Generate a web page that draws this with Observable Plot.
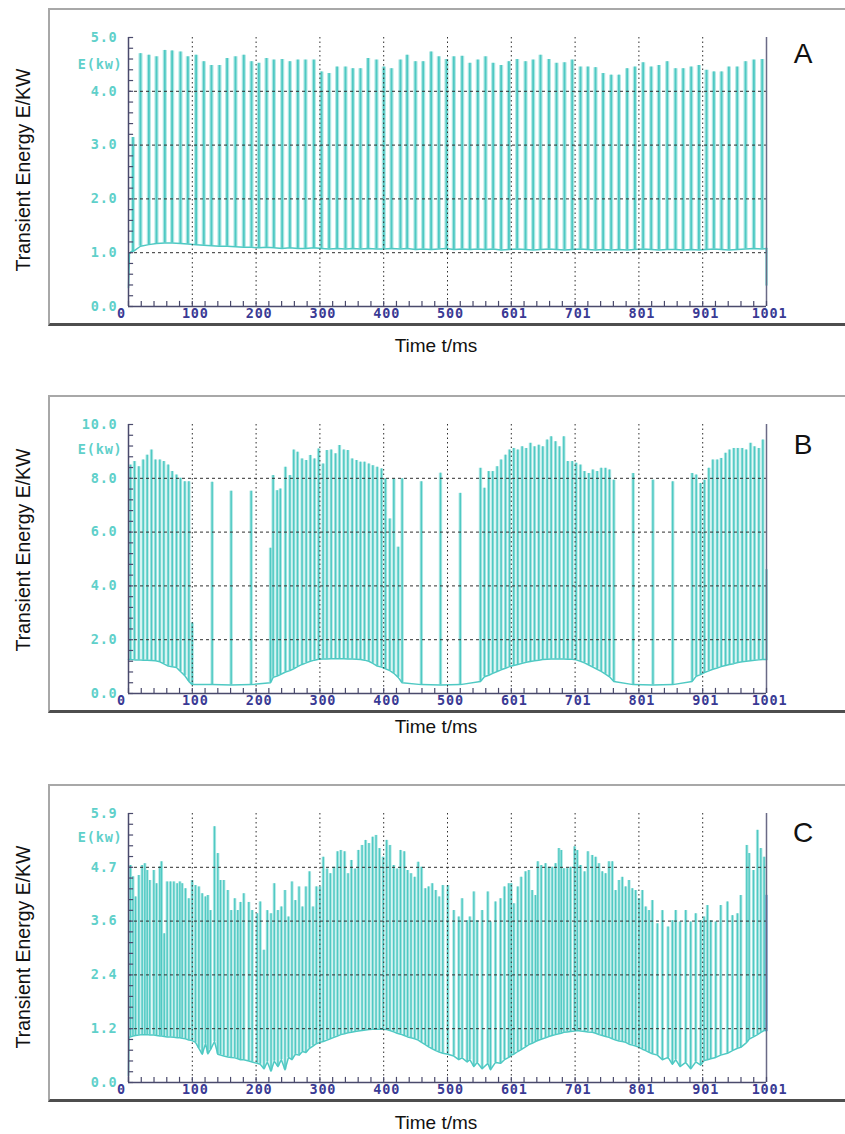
<!DOCTYPE html>
<html>
<head>
<meta charset="utf-8">
<script src="https://cdn.jsdelivr.net/npm/d3@7"></script>
<script src="https://cdn.jsdelivr.net/npm/@observablehq/plot@0.6"></script>
<style>
  html, body { margin: 0; padding: 0; background: #fff; }
  body { width: 845px; height: 1134px; position: relative; overflow: hidden; font-family: "Liberation Sans", Arial, sans-serif; }
  .panel { position: absolute; left: 0; width: 845px; height: 372px; }
  .frame { position: absolute; left: 48px; top: 8px; width: 810px; height: 318px; box-sizing: border-box;
           border-top: 2px solid #a8a8a8; border-left: 2px solid #a8a8a8; border-bottom: 3px solid #4e4e4e; }
  .plot { position: absolute; left: 0; top: 0; }
  .ytitle { position: absolute; left: 23px; transform: translate(-50%, -50%) rotate(-90deg); font-size: 19.5px; white-space: nowrap; color: #111; }
  .xtitle { position: absolute; left: 436px; transform: translate(-50%, -50%); font-size: 19px; white-space: nowrap; color: #111; }
  .letter { position: absolute; left: 803px; transform: translate(-50%, -50%); font-size: 28px; color: #111; }
</style>
</head>
<body>
<script>
// ---------- shared axis data ----------
const xTickValues = [0, 100, 200, 300, 400, 500, 600, 700, 800, 900, 1000];
const xTickLabels = ["0", "100", "200", "300", "400", "500", "601", "701", "801", "901", "1001"];

// ---------- Panel A ----------
const aTickValues = [0, 1, 2, 3, 4, 5];
const aTickLabels = ["0.0", "1.0", "2.0", "3.0", "4.0", "5.0"];
const aTimes = [7, 18.8, 31.9, 43.9, 56.9, 68.4, 81.5, 93, 106, 118, 130, 142.6, 154.6, 167.7, 180.7, 192.8, 204.3, 216.3, 227.8, 240.9,
  252.9, 265.4, 277.4, 290.5, 302.5, 314.5, 327, 340.1, 351.6, 363.6, 375.6, 388.7, 400.2, 412.2,
  426.3, 436.8, 449.8, 461.9, 474.4, 486.4, 498.4, 509.9, 523, 535, 547.5, 559.6, 571.6, 584.1, 596.2, 609.2,
  622.3, 634.3, 645.8, 658.9, 670.9, 683.4, 695.5, 708.5, 720, 732, 744, 756.6, 768.6, 781.6, 793.7, 806.7,
  819.3, 831.3, 844.4, 857.4, 869.5, 882, 894, 906, 917.5, 929.5, 941, 954.1, 967.2, 980.2, 993.3];
const aPeaks = [3.14, 4.70, 4.67, 4.64, 4.76, 4.75, 4.73, 4.64, 4.67, 4.55, 4.48, 4.48, 4.61, 4.64, 4.67, 4.55, 4.52, 4.61, 4.58, 4.59,
  4.55, 4.58, 4.58, 4.58, 4.36, 4.33, 4.45, 4.45, 4.42, 4.42, 4.61, 4.58, 4.45, 4.42,
  4.58, 4.67, 4.55, 4.55, 4.73, 4.64, 4.59, 4.64, 4.65, 4.52, 4.58, 4.64, 4.52, 4.48, 4.55, 4.59,
  4.55, 4.58, 4.67, 4.59, 4.52, 4.53, 4.58, 4.45, 4.45, 4.44, 4.33, 4.30, 4.30, 4.42, 4.45, 4.53,
  4.45, 4.48, 4.55, 4.42, 4.42, 4.45, 4.48, 4.39, 4.36, 4.36, 4.45, 4.45, 4.55, 4.58, 4.59];
const aBases = [1.02, 1.12, 1.15, 1.17, 1.18, 1.18, 1.17, 1.16, 1.15, 1.14, 1.13, 1.12, 1.12, 1.11, 1.10, 1.10, 1.09, 1.10, 1.09, 1.08,
  1.09, 1.08, 1.08, 1.09, 1.08, 1.07, 1.08, 1.07, 1.08, 1.07, 1.08, 1.07, 1.07, 1.08,
  1.07, 1.08, 1.06, 1.07, 1.06, 1.07, 1.08, 1.06, 1.07, 1.06, 1.07, 1.06, 1.07, 1.05, 1.06, 1.07,
  1.06, 1.05, 1.06, 1.07, 1.06, 1.05, 1.06, 1.07, 1.06, 1.05, 1.06, 1.05, 1.06, 1.05, 1.06, 1.07,
  1.06, 1.05, 1.06, 1.06, 1.05, 1.06, 1.05, 1.06, 1.07, 1.06, 1.05, 1.06, 1.07, 1.08, 1.07];
const aLead = [[0, 0.35], [1.5, 0.98], [4, 1.02]];
const aTail = [[1000, 1.08], [1000, 0.4]];

// ---------- Panel B ----------
const bTickValues = [0, 2, 4, 6, 8, 10];
const bTickLabels = ["0.0", "2.0", "4.0", "6.0", "8.0", "10.0"];
const bTimes = [3.1, 9.4, 16.2, 23, 29.3, 36, 42.3, 49.1, 55.4, 62.2, 68.5, 75.2, 81.5, 88.3, 94.6, 99.8,
  131.1, 160.9, 192.3,
  222.6, 226.7, 233, 238, 246, 253, 259, 265, 272, 278.5, 285, 291.5, 298, 305, 311, 317.7, 324.5, 330.7, 337.5, 343.8,
  350.6, 357.4, 363.6, 369.9, 376.7, 383, 389.8, 396.6, 402.8, 409.6, 415.9, 422.7, 428.9,
  459, 489, 520,
  551.7, 557.9, 564.6, 570.9, 577.8, 584, 590.9, 597.2, 603.9, 610.2, 617, 623.3, 630, 636.4, 643.1, 649.4, 656.2, 662.5,
  669.3, 675.5, 682.3, 688.6, 695.4, 701.6, 708.4, 714.7, 721.5, 727.8, 734.6, 740.9, 747.6, 753.9, 760.7,
  791, 822, 853,
  883.5, 889.8, 896.6, 902.8, 909.6, 915.9, 922.7, 929, 935.8, 942, 948.8, 955.1, 961.9, 968.2, 975, 981.2, 988, 994.3];
const bPeaks = [8.49, 8.62, 8.43, 8.68, 8.86, 9.05, 8.68, 8.68, 8.62, 8.49, 8.25, 8.12, 8.0, 7.87, 7.87, 2.62,
  7.85, 7.52, 7.52,
  5.4, 8.1, 7.54, 7.6, 8.41, 8.1, 9.05, 8.97, 8.72, 8.66, 8.85, 8.72, 9.09, 8.53, 9.03, 9.05, 8.91, 9.22, 9.05, 9.03,
  8.72, 8.66, 8.6, 8.6, 8.53, 8.47, 8.41, 8.35, 7.98, 6.49, 7.98, 5.44, 7.98,
  7.87, 8.19, 7.44,
  8.37, 7.63, 8.25, 8.25, 8.43, 8.68, 8.86, 9.05, 9.11, 9.05, 9.17, 9.11, 9.3, 9.17, 9.23, 9.17, 9.42, 9.54,
  9.36, 9.17, 9.54, 8.62, 8.62, 8.56, 8.49, 8.25, 8.18, 8.31, 8.25, 8.37, 8.37, 8.31, 7.93,
  8.18, 7.93, 7.87,
  8.18, 8.12, 7.81, 7.93, 8.37, 8.68, 8.68, 8.74, 8.93, 9.05, 9.11, 9.11, 9.11, 9.05, 9.3, 9.17, 9.11, 9.42];
const bBases = [1.26, 1.25, 1.25, 1.24, 1.24, 1.23, 1.22, 1.18, 1.1, 1.02, 0.99, 0.97, 0.82, 0.66, 0.45, 0.33,
  0.33, 0.32, 0.33,
  0.4, 0.6, 0.65, 0.7, 0.8, 0.85, 0.92, 1.0, 1.08, 1.14, 1.2, 1.24, 1.27, 1.28, 1.28, 1.29, 1.29, 1.29, 1.29, 1.28,
  1.28, 1.27, 1.26, 1.24, 1.2, 1.12, 1.02, 0.98, 0.92, 0.85, 0.75, 0.6, 0.4,
  0.33, 0.32, 0.33,
  0.45, 0.62, 0.68, 0.75, 0.82, 0.88, 0.94, 1.0, 1.04, 1.08, 1.12, 1.16, 1.19, 1.22, 1.24, 1.26, 1.27, 1.28,
  1.28, 1.28, 1.28, 1.27, 1.27, 1.25, 1.2, 1.14, 1.06, 0.98, 0.9, 0.82, 0.72, 0.62, 0.45,
  0.33, 0.32, 0.33,
  0.45, 0.64, 0.7, 0.78, 0.84, 0.9, 0.95, 1.0, 1.04, 1.08, 1.11, 1.15, 1.18, 1.2, 1.22, 1.24, 1.25, 1.26];
const bLead = [[0, 1.26]];
const bTail = [[1000, 1.26], [1000, 4.6]];

// ---------- Panel C ----------
const cTickValues = [0, 1.18, 2.36, 3.54, 4.72, 5.9];
const cTickLabels = ["0.0", "1.2", "2.4", "3.6", "4.7", "5.9"];
const cTimes = [3.1, 7, 11, 16.2, 21.4, 25.6, 29.3, 33.4, 39.7, 43.9, 49.1, 51.7, 56, 60.6, 65.8, 71.1, 76.3, 80.5, 84.1, 89.3,
  94.6, 99.8, 105, 110.3, 115.5, 120.7, 124.4, 128.5, 134.8, 140, 144.2, 149.4, 155.7, 160.9, 166.6, 171.3, 175.5, 180.7, 188.6, 193.8, 201.7,
  206.5, 212.3, 217.6, 223.4, 228.5, 234.2, 239.6, 245.3, 250.7, 256.2, 261.5, 267.3, 272.6, 278.1, 283.7, 289.2, 294.5, 300.1,
  305.3, 311.2, 316.4, 322.1, 327.6, 332.8, 338.7, 344.1, 349.4, 355.2, 360.3, 366.1, 371.6, 376.9, 382.7, 388.0, 393.4, 399.1,
  404.6, 409.8, 415.7, 421.0, 426.4, 432.2, 437.5, 442.8, 448.6, 454.1, 459.3, 465.2, 470.4, 476.1, 481.6, 486.9, 492.7,
  500.5, 509.9, 517.7, 522.9, 530.8, 535, 541.3, 546.5, 554.3, 563.2, 567.4, 575.2, 583.1, 589.3, 596.1, 599.8, 604, 610.2, 615.5, 622.3,
  627.5, 632.7, 638, 641.6, 646.9, 653.7, 658.9, 664.1, 669.4, 674.6, 678.3, 682.4, 687.7, 692.9, 699.2, 703.4, 708.6, 714.9, 720.1, 726.9,
  732.2, 737.4, 742.6, 747.8, 753.1, 758.3, 763.5, 768.8, 774, 779.2, 784.5, 789.7, 794.9, 800.2, 805.4, 810.7, 815.9, 821.1, 829, 836.8,
  845.7, 852.5, 857.7, 864.5, 873.4, 881.2, 889.1, 896.9, 902.1, 907.4, 912.6, 920.5, 928.3, 938.8, 946.6, 954.5, 959.7, 969.1, 972.8, 979.6,
  985.9, 991.1, 996.3];
const cPeaks = [4.76, 4.51, 4.07, 4.54, 4.76, 4.80, 4.65, 4.43, 4.65, 4.36, 4.73, 4.84, 3.26, 4.40, 4.40, 4.40, 4.36, 4.40, 4.36, 4.25,
  4.03, 4.43, 4.32, 4.29, 4.14, 4.07, 4.10, 3.77, 5.61, 5.02, 4.43, 4.43, 4.21, 3.77, 4.03, 3.77, 3.95, 4.14, 3.95, 3.77, 3.70,
  3.96, 2.90, 3.77, 3.70, 4.36, 3.77, 3.85, 4.21, 3.63, 4.40, 3.99, 4.29, 3.85, 4.29, 4.62, 3.85, 4.29, 4.29,
  4.94, 4.68, 4.58, 4.72, 5.06, 5.09, 5.06, 4.58, 4.87, 4.68, 5.09, 5.20, 5.31, 5.24, 5.38, 5.42, 5.13, 4.94,
  5.31, 5.20, 4.76, 4.68, 5.09, 5.06, 4.65, 4.58, 4.50, 4.83, 4.72, 4.25, 4.29, 4.36, 4.21, 4.07, 4.32,
  4.32, 3.77, 3.63, 4.03, 3.55, 3.63, 4.18, 3.55, 3.77, 4.18, 3.52, 3.96, 4.03, 4.29, 4.36, 4.36, 3.92, 4.29, 4.50, 4.62,
  4.65, 4.21, 4.10, 4.84, 4.76, 4.80, 4.72, 4.72, 4.80, 5.13, 5.09, 4.69, 4.69, 4.72, 5.17, 5.09, 4.76, 4.62, 5.06, 4.98,
  4.94, 4.80, 4.62, 4.58, 4.84, 4.84, 4.21, 4.43, 4.50, 4.29, 4.43, 4.25, 4.21, 4.03, 4.21, 3.85, 3.77, 3.99, 3.48, 3.77,
  3.41, 3.55, 3.77, 3.52, 3.77, 3.52, 3.70, 3.55, 3.63, 3.88, 3.55, 3.52, 3.88, 3.96, 3.66, 3.70, 4.10, 5.20, 5.02, 4.65,
  5.53, 5.13, 4.94];
const cBases = [1.0, 1.02, 1.03, 1.04, 1.05, 1.05, 1.05, 1.04, 1.04, 1.03, 1.02, 1.02, 1.01, 1.0, 1.0, 0.99, 0.98, 0.98, 0.97, 0.96,
  0.93, 0.92, 0.88, 0.75, 0.62, 0.85, 0.63, 0.72, 0.9, 0.62, 0.6, 0.58, 0.56, 0.55, 0.54, 0.52, 0.5, 0.5, 0.47, 0.45, 0.42,
  0.4, 0.3, 0.45, 0.25, 0.47, 0.35, 0.5, 0.28, 0.55, 0.5, 0.62, 0.6, 0.68, 0.66, 0.75, 0.8, 0.85, 0.88,
  0.9, 0.93, 0.96, 0.99, 1.02, 1.05, 1.07, 1.09, 1.1, 1.12, 1.13, 1.14, 1.15, 1.16, 1.17, 1.17, 1.17, 1.17,
  1.16, 1.14, 1.11, 1.08, 1.06, 1.03, 1.0, 0.98, 0.96, 0.93, 0.88, 0.83, 0.78, 0.74, 0.7, 0.67, 0.64,
  0.62, 0.58, 0.5, 0.54, 0.45, 0.5, 0.35, 0.44, 0.3, 0.42, 0.28, 0.44, 0.42, 0.5, 0.55, 0.6, 0.62, 0.68, 0.72, 0.78,
  0.83, 0.86, 0.9, 0.92, 0.95, 0.98, 1.01, 1.03, 1.05, 1.07, 1.08, 1.1, 1.11, 1.12, 1.13, 1.14, 1.13, 1.12, 1.11, 1.1,
  1.08, 1.05, 1.03, 1.01, 0.99, 0.96, 0.93, 0.91, 0.9, 0.88, 0.84, 0.82, 0.8, 0.77, 0.73, 0.7, 0.66, 0.63, 0.6, 0.5,
  0.55, 0.4, 0.5, 0.35, 0.44, 0.3, 0.45, 0.38, 0.48, 0.5, 0.52, 0.55, 0.6, 0.64, 0.7, 0.75, 0.77, 0.88, 0.95, 1.0,
  1.05, 1.1, 1.14];
const cLead = [[0, 0.15], [0.6, 1.0]];
const cTail = [[1000, 1.14], [1000, 4.1]];

// ---------- styling constants ----------
const signalColor = "#4fc9c3";
const paleColor = "#b4e9e6";
const axisColor = "#4a4a6c";
const gridColor = "#2e2e2e";
const yLabelColor = "#5fd0ca";
const xLabelColor = "#3a3a94";
const monoFont = "DejaVu Sans Mono";

const panels = [
  {top: 0, letter: "A", yMax: 5, ticks: aTickValues, labels: aTickLabels, eY: 4.5,
   times: aTimes, peaks: aPeaks, bases: aBases, lead: aLead, tail: aTail, tailColor: signalColor, rw: 1.9, pw: 4.2,
   ytitle: 170, xtitle: 346, letterY: 54},
  {top: 387, letter: "B", yMax: 10, ticks: bTickValues, labels: bTickLabels, eY: 9.05,
   times: bTimes, peaks: bPeaks, bases: bBases, lead: bLead, tail: bTail, tailColor: signalColor, rw: 1.5, pw: 3.4,
   ytitle: 163, xtitle: 340, letterY: 58},
  {top: 776, letter: "C", yMax: 5.9, ticks: cTickValues, labels: cTickLabels, eY: 5.36,
   times: cTimes, peaks: cPeaks, bases: cBases, lead: cLead, tail: cTail, tailColor: "#3a8ed4", rw: 1.4, pw: 3.2,
   ytitle: 171, xtitle: 347, letterY: 57}
];

for (const p of panels) {
  const div = document.createElement("div");
  div.className = "panel";
  div.style.top = p.top + "px";
  document.body.appendChild(div);

  const frame = document.createElement("div");
  frame.className = "frame";
  div.appendChild(frame);

  const spikes = p.times.map((t, i) => ({t, p: p.peaks[i], b: p.bases[i]}));
  const baseLine = [...p.lead.map(([t, b]) => ({t, b})), ...spikes.map(d => ({t: d.t, b: d.b})), {t: p.tail[0][0], b: p.tail[0][1]}];
  const tailLine = p.tail.map(([t, b]) => ({t, b}));

  const minorStep = (p.ticks[1] - p.ticks[0]) / 5;
  const yMinor = d3.range(0, 26).map(k => k * minorStep).filter(v => v <= p.yMax + 1e-9);
  const xMinor = d3.range(0, 51).map(k => k * 20);
  const xTicks = xTickValues.map((v, i) => ({v, label: xTickLabels[i]}));
  const yTicks = p.ticks.map((v, i) => ({v, label: p.labels[i]}));
  const labelFont = {fontFamily: monoFont, fontWeight: "bold", fontSize: 13.5};

  const chart = Plot.plot({
    width: 845, height: 360,
    marginLeft: 128, marginRight: 79, marginTop: 37, marginBottom: 54,
    x: {domain: [0, 1000], axis: null},
    y: {domain: [0, p.yMax], axis: null},
    style: {background: "transparent", overflow: "visible"},
    marks: [
      Plot.ruleX(spikes, {x: "t", y1: "b", y2: "p", stroke: paleColor, strokeWidth: p.pw}),
      Plot.ruleX(spikes, {x: "t", y1: "b", y2: "p", stroke: signalColor, strokeWidth: p.rw}),
      Plot.line(baseLine, {x: "t", y: "b", stroke: signalColor, strokeWidth: 1.5}),
      Plot.line(tailLine, {x: "t", y: "b", stroke: p.tailColor, strokeWidth: 2}),
      Plot.ruleY(p.ticks.slice(1, -1), {stroke: gridColor, strokeDasharray: "3,3", strokeWidth: 1}),
      Plot.ruleX(xTickValues.slice(1, -1), {stroke: gridColor, strokeDasharray: "1.5,3", strokeWidth: 1}),
      Plot.ruleX([0], {stroke: axisColor, strokeWidth: 1.5}),
      Plot.ruleX([1000], {stroke: "#6a6a86", strokeWidth: 1.5}),
      Plot.ruleY([0], {stroke: axisColor, strokeWidth: 1.5}),
      Plot.ruleY(yMinor, {y: d => d, x1: 0, x2: 8, stroke: axisColor, strokeWidth: 1.2}),
      Plot.ruleX(xMinor, {x: d => d, y1: 0, y2: p.yMax * 0.019, stroke: axisColor, strokeWidth: 1.2}),
      Plot.text(yTicks, {frameAnchor: "left", y: "v", text: "label", textAnchor: "end", dx: -11,
        fill: yLabelColor, ...labelFont}),
      Plot.text([p.eY], {frameAnchor: "left", y: d => d, text: d => "E(kw)", textAnchor: "end", dx: -6,
        fill: yLabelColor, ...labelFont}),
      Plot.text(xTicks.slice(0, 1), {x: "v", text: "label", frameAnchor: "bottom", dy: 11, dx: -7,
        fill: xLabelColor, ...labelFont}),
      Plot.text(xTicks.slice(1), {x: "v", text: "label", frameAnchor: "bottom", dy: 11, dx: 3,
        fill: xLabelColor, ...labelFont})
    ]
  });
  chart.classList.add("plot");
  chart.style.letterSpacing = "0.8px";
  div.appendChild(chart);

  const yt = document.createElement("div");
  yt.className = "ytitle";
  yt.style.top = p.ytitle + "px";
  yt.textContent = "Transient Energy E/KW";
  div.appendChild(yt);

  const xt = document.createElement("div");
  xt.className = "xtitle";
  xt.style.top = p.xtitle + "px";
  xt.textContent = "Time t/ms";
  div.appendChild(xt);

  const lt = document.createElement("div");
  lt.className = "letter";
  lt.style.top = p.letterY + "px";
  lt.textContent = p.letter;
  div.appendChild(lt);
}
</script>
</body>
</html>
